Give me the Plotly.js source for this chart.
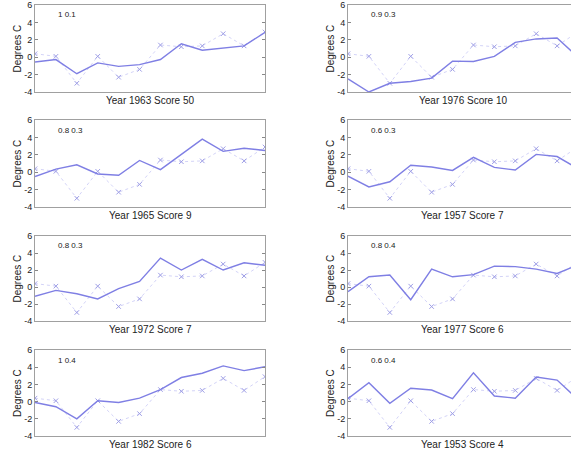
<!DOCTYPE html>
<html>
<head>
<meta charset="utf-8">
<script src="https://cdn.plot.ly/plotly-3.0.1.min.js"></script>
<style>
html,body{margin:0;padding:0;overflow:hidden;background:#fff;}
#chart{width:600px;height:451px;}
</style>
</head>
<body>
<div id="chart"></div>
<script>
// ---- data ----
const steps = [1, 2, 3, 4, 5, 6, 7, 8, 9, 10, 11, 12];
const observed = [0.4, 0.1, -3.0, 0.1, -2.3, -1.4, 1.4, 1.2, 1.3, 2.7, 1.3, 2.9];

const model1963 = [-0.55, -0.27, -1.9, -0.65, -1.05, -0.85, -0.27, 1.55, 0.8, 1.05, 1.3, 2.85];
const model1976 = [-2.5, -4.0, -3.0, -2.8, -2.4, -0.45, -0.5, 0.1, 1.7, 2.1, 2.2, 0.0];
const model1965 = [-0.5, 0.35, 0.85, -0.2, -0.35, 1.35, 0.3, 2.05, 3.8, 2.4, 2.75, 2.5];
const model1957 = [-0.45, -1.7, -1.1, 0.8, 0.6, 0.2, 1.7, 0.55, 0.25, 2.05, 1.8, 0.4];
const model1972 = [-1.1, -0.4, -0.8, -1.4, -0.2, 0.65, 3.4, 2.0, 3.25, 2.0, 2.85, 2.55];
const model1977 = [-0.55, 1.2, 1.4, -1.5, 2.1, 1.2, 1.45, 2.45, 2.4, 2.1, 1.6, 2.6];
const model1982 = [-0.1, -0.6, -2.0, 0.1, -0.1, 0.4, 1.4, 2.8, 3.3, 4.15, 3.6, 4.05];
const model1953 = [0.35, 2.2, -0.2, 1.55, 1.35, 0.35, 3.35, 0.65, 0.4, 2.85, 2.5, 0.25];

const panelTitles = ["Year 1963 Score 50", "Year 1976 Score 10", "Year 1965 Score 9", "Year 1957 Score 7",
                     "Year 1972 Score 7", "Year 1977 Score 6", "Year 1982 Score 6", "Year 1953 Score 4"];
const panelNotes = ["1 0.1", "0.9 0.3", "0.8 0.3", "0.6 0.3", "0.8 0.3", "0.8 0.4", "1 0.4", "0.6 0.4"];
const yTicks = [-4, -2, 0, 2, 4, 6];
const yLabel = "Degrees C";

const models = [model1963, model1976, model1965, model1957, model1972, model1977, model1982, model1953];

// ---- layout geometry (pixels) ----
const W = 600, H = 451;
const colX = [[35, 265], [348, 578]];
const rowY = [[5, 92], [120, 207], [236, 321], [350, 436]];

const traces = [];
const layout = {
  width: W, height: H,
  margin: {l: 0, r: 0, t: 0, b: 0},
  paper_bgcolor: '#fff', plot_bgcolor: '#fff',
  showlegend: false,
  font: {family: 'Liberation Sans, Arial, sans-serif', color: '#222'},
  annotations: []
};

for (let i = 0; i < 8; i++) {
  const r = Math.floor(i / 2), c = i % 2;
  const sfx = i === 0 ? '' : String(i + 1);
  const xa = 'x' + sfx, ya = 'y' + sfx;
  traces.push({
    x: steps, y: observed, xaxis: xa, yaxis: ya, type: 'scatter', mode: 'lines+markers',
    line: {color: 'rgba(175,175,240,0.55)', width: 1, dash: 'dot'},
    marker: {symbol: 'x-thin-open', size: 4.5, color: '#9e9ee6', line: {width: 1, color: '#9e9ee6'}},
    hoverinfo: 'skip'
  });
  traces.push({
    x: steps, y: models[i], xaxis: xa, yaxis: ya, type: 'scatter', mode: 'lines',
    line: {color: '#7f7fe4', width: 1.4},
    hoverinfo: 'skip'
  });
  const x0 = colX[c][0] / W, x1 = colX[c][1] / W;
  const y0 = 1 - rowY[r][1] / H, y1 = 1 - rowY[r][0] / H;
  layout['xaxis' + sfx] = {
    domain: [x0, x1], anchor: ya, range: [1, 12],
    showticklabels: false, ticks: '', showgrid: false, zeroline: false,
    showline: true, mirror: true, linecolor: '#a0a0a0', linewidth: 1
  };
  layout['yaxis' + sfx] = {
    domain: [y0, y1], anchor: xa, range: [-4, 6],
    tickmode: 'array', tickvals: yTicks, ticktext: yTicks.map(String),
    ticks: 'inside', ticklen: 3, tickcolor: '#888', mirror: 'ticks',
    showline: true, linecolor: '#a0a0a0', linewidth: 1,
    showgrid: false, zeroline: false,
    tickfont: {size: 9, color: '#222'}
  };
  // x label (panel title) below axis
  layout.annotations.push({
    text: panelTitles[i], xref: 'paper', yref: 'paper',
    x: (colX[c][0] + colX[c][1]) / 2 / W, y: 1 - (rowY[r][1] + 8.5) / H,
    xanchor: 'center', yanchor: 'middle', showarrow: false,
    font: {size: 10, color: '#222'}
  });
  // y label
  layout.annotations.push({
    text: yLabel, xref: 'paper', yref: 'paper',
    x: (colX[c][0] - 18) / W, y: 1 - (rowY[r][0] + rowY[r][1]) / 2 / H,
    xanchor: 'center', yanchor: 'middle', textangle: -90, showarrow: false,
    font: {size: 10, color: '#222'}
  });
  // corner note
  layout.annotations.push({
    text: panelNotes[i], xref: 'paper', yref: 'paper',
    x: (colX[c][0] + 21) / W, y: 1 - (rowY[r][0] + 10) / H,
    xanchor: 'left', yanchor: 'middle', showarrow: false,
    font: {size: 8, color: '#222'}
  });
}

Plotly.newPlot('chart', traces, layout, {staticPlot: true, displayModeBar: false});
</script>
</body>
</html>
